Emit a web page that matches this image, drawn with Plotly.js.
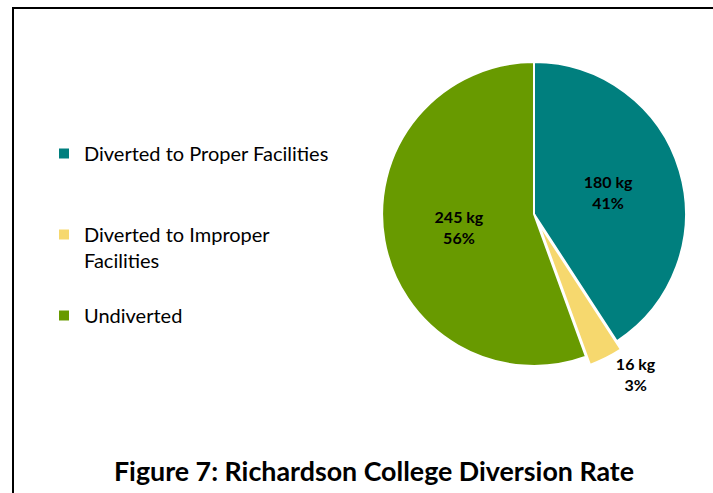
<!DOCTYPE html>
<html>
<head>
<meta charset="utf-8">
<script src="https://cdn.plot.ly/plotly-3.0.1.min.js"></script>
<style>
  html, body { margin: 0; padding: 0; background: #fff; }
  #chart { width: 713px; height: 493px; }
</style>
</head>
<body>
<div id="chart"></div>
<script>
// ---- data ----
const categories = ["Diverted to Proper Facilities", "Diverted to Improper Facilities", "Undiverted"];
const legendLabels = ["Diverted to Proper Facilities<br> <br> ", "Diverted to Improper<br>Facilities<br> ", "Undiverted"];
const weightsKg = [180, 16, 245];
const percentLabels = [41, 3, 56];
const sliceColors = ["#007F7E", "#F6D86E", "#689A00"];
const titleText = "Figure 7: Richardson College Diversion Rate";

const W = 713, H = 493;
const px = v => v / W;
const py = v => 1 - v / H;

const textLabels = weightsKg.map((w, i) => "<b>" + w + " kg<br>" + percentLabels[i] + "%</b>");

const trace = {
  type: "pie",
  labels: legendLabels,
  values: weightsKg,
  text: textLabels,
  textinfo: "text",
  hovertext: categories,
  sort: false,
  direction: "clockwise",
  rotation: 0,
  pull: [0, 0.06, 0],
  marker: { colors: sliceColors, line: { color: "#ffffff", width: 2 } },
  textposition: ["inside", "outside", "inside"],
  insidetextorientation: "horizontal",
  textfont: { family: "Lato, sans-serif", size: 16, color: "#000000" },
  outsidetextfont: { family: "Lato, sans-serif", size: 16, color: "#000000" },
  insidetextfont: { family: "Lato, sans-serif", size: 16, color: "#000000" },
  domain: { x: [px(373), px(695)], y: [py(375), py(53)] },
  hoverinfo: "none"
};

const layout = {
  width: W, height: H,
  autosize: false,
  margin: { l: 0, r: 0, t: 0, b: 0 },
  paper_bgcolor: "#ffffff",
  showlegend: true,
  legend: {
    x: px(44), y: py(134), xanchor: "left", yanchor: "top",
    valign: "top",
    font: { family: "Lato, sans-serif", size: 20, color: "#000000" },
    bgcolor: "rgba(0,0,0,0)"
  },
  title: {
    text: "<b>" + titleText + "</b>",
    x: px(374), xref: "paper", xanchor: "center",
    y: py(472), yref: "paper", yanchor: "middle",
    font: { family: "Lato, sans-serif", size: 26.8, color: "#000000" }
  },
  shapes: [
    { type: "line", xref: "paper", yref: "paper", x0: px(12), x1: 1, y0: py(8), y1: py(8), line: { color: "#000000", width: 2 } },
    { type: "line", xref: "paper", yref: "paper", x0: px(13), x1: px(13), y0: py(7), y1: 0, line: { color: "#000000", width: 2 } }
  ]
};

Plotly.newPlot("chart", [trace], layout, { displayModeBar: false, staticPlot: true });
</script>
</body>
</html>
